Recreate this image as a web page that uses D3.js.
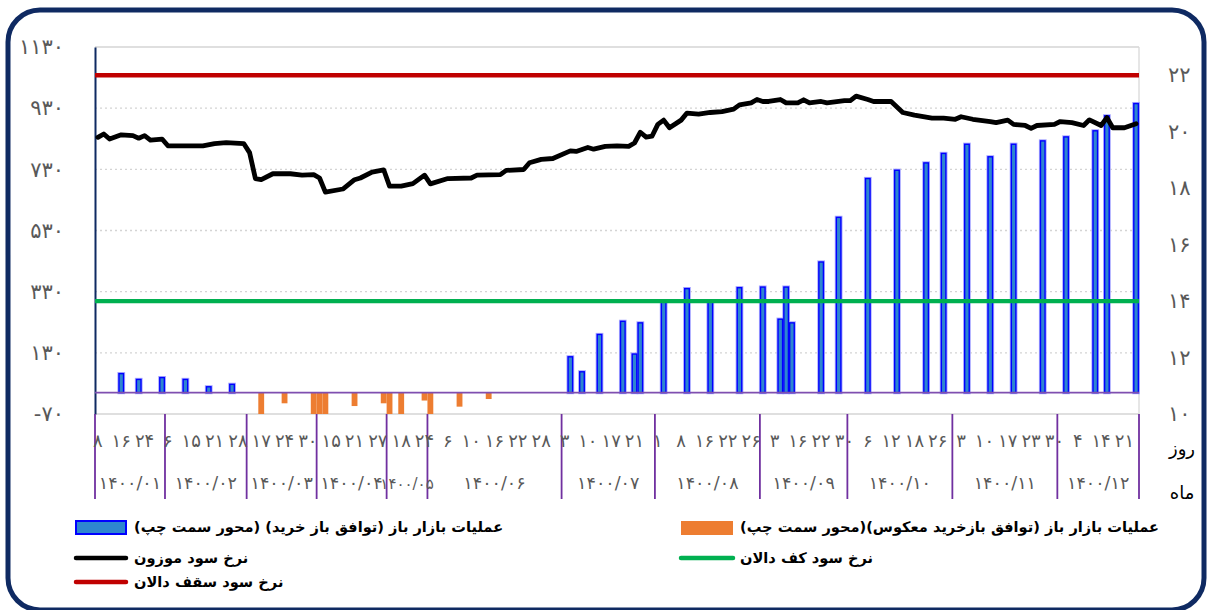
<!DOCTYPE html>
<html><head><meta charset="utf-8">
<script src="https://cdn.jsdelivr.net/npm/d3@7"></script>
<style>body{margin:0;background:#fff}svg{display:block}</style>
</head><body>
<svg id="chart" width="1207" height="610"></svg>
<script>
// ---------------- data ----------------
const monthLabels = ["۱۴۰۰/۰۱","۱۴۰۰/۰۲","۱۴۰۰/۰۳","۱۴۰۰/۰۴","۱۴۰۰/۰۵","۱۴۰۰/۰۶","۱۴۰۰/۰۷","۱۴۰۰/۰۸","۱۴۰۰/۰۹","۱۴۰۰/۱۰","۱۴۰۰/۱۱","۱۴۰۰/۱۲"];
const monthDayCounts = [12,14,12,12,7,23,16,18,15,18,18,14];
const dayTickLabels = [8,16,24, 6,15,21,28, 17,24,30, 15,21,27, 18,24, 6,10,16,22,28, 3,10,17,21, 1,8,16,22,26, 3,16,22,30, 6,12,18,26, 3,10,17,23,30, 4,14,21];
const dayTickStep = 4;
const leftTicks = [-70,130,330,530,730,930,1130];
const rightTicks = [10,12,14,16,18,20,22];
const leftDomain = [-70,1130];
const rightDomain = [10,23];

const repoIdx = [4,7,11,15,19,23,81,83,86,90,92,93,97,101,105,110,114,117,118,119,124,127,132,137,142,145,149,153,157,162,166,171,173,178];
const repoVal = [62,43,49,43,19,27,117,68,190,233,126,228,296,340,298,343,345,240,345,228,427,573,700,727,751,782,812,771,812,823,836,856,905,945];
const reverseIdx = [28,32,37,38,39,44,49,50,52,56,57,62,67];
const reverseVal = [-70,-35,-70,-70,-70,-44,-35,-70,-70,-26,-70,-46,-21];

const rateIdx = [0,1,2,4,6,7,8,9,11,12,18,20,22,25,26,27,28,30,33,35,37,38,39,42,44,45,47,49,50,52,54,56,57,60,64,65,69,70,73,74,76,78,81,82,84,85,87,89,91,92,93,94,95,96,97,98,100,101,103,105,107,109,110,112,113,114,115,117,118,120,121,122,124,125,128,129,130,132,133,136,138,140,143,145,147,148,150,153,154,156,157,159,160,161,164,165,167,169,170,172,173,174,176,178];
const rateVal = [19.80,19.92,19.74,19.89,19.86,19.77,19.86,19.70,19.74,19.50,19.50,19.58,19.61,19.58,19.26,18.34,18.30,18.51,18.51,18.46,18.48,18.36,17.86,17.97,18.30,18.36,18.57,18.65,18.07,18.07,18.16,18.46,18.15,18.34,18.36,18.46,18.48,18.63,18.66,18.90,19.02,19.05,19.32,19.30,19.44,19.38,19.48,19.50,19.48,19.60,19.98,19.81,19.84,20.26,20.41,20.14,20.41,20.66,20.62,20.68,20.71,20.80,20.95,21.02,21.14,21.07,21.07,21.14,21.02,21.02,21.13,21.02,21.07,21.02,21.10,21.10,21.26,21.14,21.07,21.07,20.68,20.59,20.48,20.48,20.44,20.53,20.44,20.36,20.32,20.41,20.26,20.22,20.12,20.22,20.26,20.36,20.32,20.22,20.42,20.22,20.50,20.14,20.14,20.28];
const ceilingRate = 22;
const floorRate = 14;

const legendRepo = "عملیات بازار باز (توافق باز خرید) (محور سمت چپ)";
const legendReverse = "عملیات بازار باز (توافق بازخرید معکوس)(محور سمت چپ)";
const legendRate = "نرخ سود  موزون";
const legendFloor = "نرخ سود کف دالان";
const legendCeiling = "نرخ سود سقف دالان";
const dayTitle = "روز";
const monthTitle = "ماه";

// ---------------- helpers ----------------
const fa = s => String(s).replace(/\d/g, d => "۰۱۲۳۴۵۶۷۸۹"[+d]);
const nDays = d3.sum(monthDayCounts);

const svg = d3.select("#chart");
const L = 95, R = 1139, T = 47, B = 414;

const x = d3.scaleBand().domain(d3.range(nDays)).range([L, R]).padding(0);
const bw = x.bandwidth();
const cx = i => x(i) + bw / 2;
const yL = d3.scaleLinear().domain(leftDomain).range([B, T]);
const yR = d3.scaleLinear().domain(rightDomain).range([B, T]);

// frame
svg.append("rect").attr("x", 8).attr("y", 10).attr("width", 1196).attr("height", 600)
  .attr("rx", 32).attr("fill", "none").attr("stroke", "#0f2a62").attr("stroke-width", 5);

// gridlines
svg.append("g").selectAll("line").data(leftTicks).join("line")
  .attr("x1", L).attr("x2", R).attr("y1", d => yL(d)).attr("y2", d => yL(d))
  .attr("stroke", "#d4d4d4").attr("stroke-width", 1.3)
  .attr("stroke-dasharray", (d, i) => (i === 0 || i === leftTicks.length - 1) ? null : "2,3");
svg.append("line").attr("x1", R).attr("x2", R).attr("y1", T).attr("y2", B)
  .attr("stroke", "#d9d9d9").attr("stroke-width", 1.3);

// left axis
const axL = d3.axisLeft(yL).tickValues(leftTicks).tickSize(0).tickPadding(31).tickFormat(fa);
const gL = svg.append("g").attr("transform", `translate(${L},0)`).call(axL);
gL.select(".domain").attr("stroke", "#0f2a62").attr("stroke-width", 2);
gL.selectAll("text").attr("font-family", "DejaVu Sans").attr("font-size", 21).attr("fill", "#595959");

// right axis
const axR = d3.axisRight(yR).tickValues(rightTicks).tickSize(0).tickPadding(29).tickFormat(fa);
const gR = svg.append("g").attr("transform", `translate(${R},0)`).call(axR);
gR.select(".domain").remove();
gR.selectAll("text").attr("font-family", "DejaVu Sans").attr("font-size", 21).attr("fill", "#595959");

// bars: reverse repo (orange)
const reverse = reverseIdx.map((d, k) => ({ i: d, v: reverseVal[k] }));
svg.append("g").selectAll("rect").data(reverse).join("rect")
  .attr("x", d => x(d.i)).attr("width", bw)
  .attr("y", yL(0)).attr("height", d => yL(d.v) - yL(0))
  .attr("fill", "#ed7d31");

// bars: repo (blue)
const repo = repoIdx.map((d, k) => ({ i: d, v: repoVal[k] }));
const bwBlue = bw * 0.78;
const gb = svg.append("g");
gb.selectAll("rect.glow").data(repo).join("rect").attr("class", "glow")
  .attr("x", d => cx(d.i) - bwBlue / 2).attr("width", bwBlue)
  .attr("y", d => yL(d.v)).attr("height", d => yL(0) - yL(d.v))
  .attr("fill", "none").attr("stroke", "#a8a8ff").attr("stroke-width", 3.2);
gb.selectAll("rect.bar").data(repo).join("rect").attr("class", "bar")
  .attr("x", d => cx(d.i) - bwBlue / 2).attr("width", bwBlue)
  .attr("y", d => yL(d.v)).attr("height", d => yL(0) - yL(d.v))
  .attr("fill", "#2e86cf").attr("stroke", "#0000ff").attr("stroke-width", 1.4);

// zero line
svg.append("line").attr("x1", L).attr("x2", R).attr("y1", yL(0)).attr("y2", yL(0))
  .attr("stroke", "#7f4fb0").attr("stroke-width", 1.6);

// corridor lines
svg.append("line").attr("x1", L).attr("x2", R).attr("y1", yR(floorRate)).attr("y2", yR(floorRate))
  .attr("stroke", "#00b050").attr("stroke-width", 4.4);
svg.append("line").attr("x1", L).attr("x2", R).attr("y1", yR(ceilingRate)).attr("y2", yR(ceilingRate))
  .attr("stroke", "#c00000").attr("stroke-width", 4.4);

// weighted rate
const rate = rateIdx.map((d, k) => ({ i: d, v: rateVal[k] }));
svg.append("path").datum(rate)
  .attr("d", d3.line().x(d => cx(d.i)).y(d => yR(d.v)))
  .attr("fill", "none").attr("stroke", "#000").attr("stroke-width", 4.8)
  .attr("stroke-linejoin", "round").attr("stroke-linecap", "round");

// category axis: day labels and month groups
const starts = [];
monthDayCounts.reduce((acc, n) => { starts.push(acc); return acc + n; }, 0);
const bounds = starts.concat([nDays]);
svg.append("g").selectAll("line").data(bounds).join("line")
  .attr("x1", d => d === nDays ? R : x(d)).attr("x2", d => d === nDays ? R : x(d))
  .attr("y1", B).attr("y2", 499)
  .attr("stroke", "#7030a0").attr("stroke-width", 1.8);

svg.append("g").selectAll("text").data(dayTickLabels).join("text")
  .attr("x", (d, k) => cx(k * dayTickStep)).attr("y", 447)
  .attr("text-anchor", "middle").attr("font-family", "DejaVu Sans").attr("font-size", 18)
  .attr("fill", "#595959").text(d => fa(d));

svg.append("g").selectAll("text").data(monthLabels).join("text")
  .attr("x", (d, k) => (x(starts[k]) + (k === monthLabels.length - 1 ? R : x(starts[k + 1]))) / 2)
  .attr("y", 489).attr("text-anchor", "middle").attr("font-family", "DejaVu Sans")
  .attr("font-size", (d, k) => monthDayCounts[k] < 10 ? 15 : 17.5)
  .attr("fill", "#595959").text(d => d);

svg.append("text").attr("x", 1182).attr("y", 455).attr("text-anchor", "middle")
  .attr("font-family", "DejaVu Sans").attr("font-size", 18).attr("fill", "#000").text(dayTitle);
svg.append("text").attr("x", 1182).attr("y", 499).attr("text-anchor", "middle")
  .attr("font-family", "DejaVu Sans").attr("font-size", 18).attr("fill", "#000").text(monthTitle);

// legend
const lg = svg.append("g").attr("font-family", "DejaVu Sans").attr("font-weight", "bold").attr("font-size", 14.6).attr("fill", "#000");
function legendText(xp, yp, t) {
  lg.append("text").attr("x", xp).attr("y", yp).attr("direction", "rtl").attr("text-anchor", "end")
    .attr("dominant-baseline", "middle").text(t);
}
lg.append("rect").attr("x", 76).attr("y", 521).attr("width", 50).attr("height", 13)
  .attr("fill", "#2e86cf").attr("stroke", "#0000ff").attr("stroke-width", 2);
legendText(134, 528, legendRepo);
lg.append("line").attr("x1", 76).attr("x2", 126).attr("y1", 558).attr("y2", 558).attr("stroke", "#000").attr("stroke-width", 4.5).attr("stroke-linecap", "round");
legendText(134, 559, legendRate);
lg.append("line").attr("x1", 76).attr("x2", 126).attr("y1", 582).attr("y2", 582).attr("stroke", "#c00000").attr("stroke-width", 4.5).attr("stroke-linecap", "round");
legendText(134, 583, legendCeiling);
lg.append("rect").attr("x", 681).attr("y", 521).attr("width", 52).attr("height", 14).attr("fill", "#ed7d31");
legendText(740, 528, legendReverse);
lg.append("line").attr("x1", 681).attr("x2", 733).attr("y1", 558).attr("y2", 558).attr("stroke", "#00b050").attr("stroke-width", 4.5).attr("stroke-linecap", "round");
legendText(740, 559, legendFloor);
</script>
</body></html>
